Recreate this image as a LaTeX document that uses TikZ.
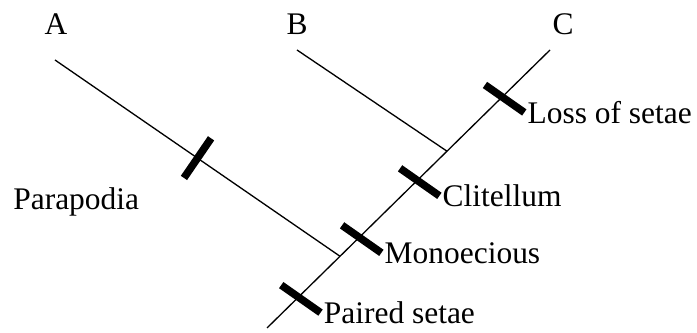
\documentclass[tikz,border=0pt]{standalone}
\usepackage{fontspec}
\setmainfont{Liberation Serif}
\usetikzlibrary{calc}

\tikzset{
  branch/.style={line width=0.75pt},
  trait/.style={line width=4.3pt},
  lbl/.style={inner sep=0pt, anchor=base west, font=\fontsize{17.9}{20}\selectfont},
  taxon/.style={inner sep=0pt, anchor=base, font=\fontsize{17.9}{20}\selectfont},
}

\begin{document}
\begin{tikzpicture}[x=0.02cm,y=-0.02cm]
    \useasboundingbox (0,0) rectangle (697,333);

    % tree
    \coordinate (root) at (267,328);
    \coordinate (tipA) at (55,60);
    \coordinate (tipB) at (297,50);
    \coordinate (tipC) at (550,50);
    \coordinate (jA) at ($(root)!0.258!(tipC)$);
    \coordinate (jB) at ($(root)!0.636!(tipC)$);
    \draw[branch] (root) -- (tipC);
    \draw[branch] (tipA) -- (jA);
    \draw[branch] (tipB) -- (jB);

    % taxa
    \node[taxon] (A) at (56,35) {A};
    \node[taxon] (B) at (297,35) {B};
    \node[taxon] (C) at (563,35) {C};

    % traits on the stem
    \foreach \pos/\name/\txt in {0.111/ps/Paired setae, 0.326/mo/Monoecious, 0.531/cl/Clitellum, 0.831/ls/Loss of setae}{
        \coordinate (\name) at ($(root)!\pos!(tipC)$);
        \draw[trait] ($(\name)+(215:21)$) coordinate (\name-a) -- ($(\name)+(35:27)$) coordinate (\name-b);
        \node[lbl] (\name-l) at ($(\name-b)+(3,11)$) {\txt};
    }

    % trait on A
    \coordinate (pa) at ($(tipA)!0.5!(jA)$);
    \draw[trait] ($(pa)+(-55.6:24)$) coordinate (pa-a) -- ($(pa)+(124.4:24)$) coordinate (pa-b);
    \node[lbl] (pa-l) at (13,210) {Parapodia};
\end{tikzpicture}
\end{document}
